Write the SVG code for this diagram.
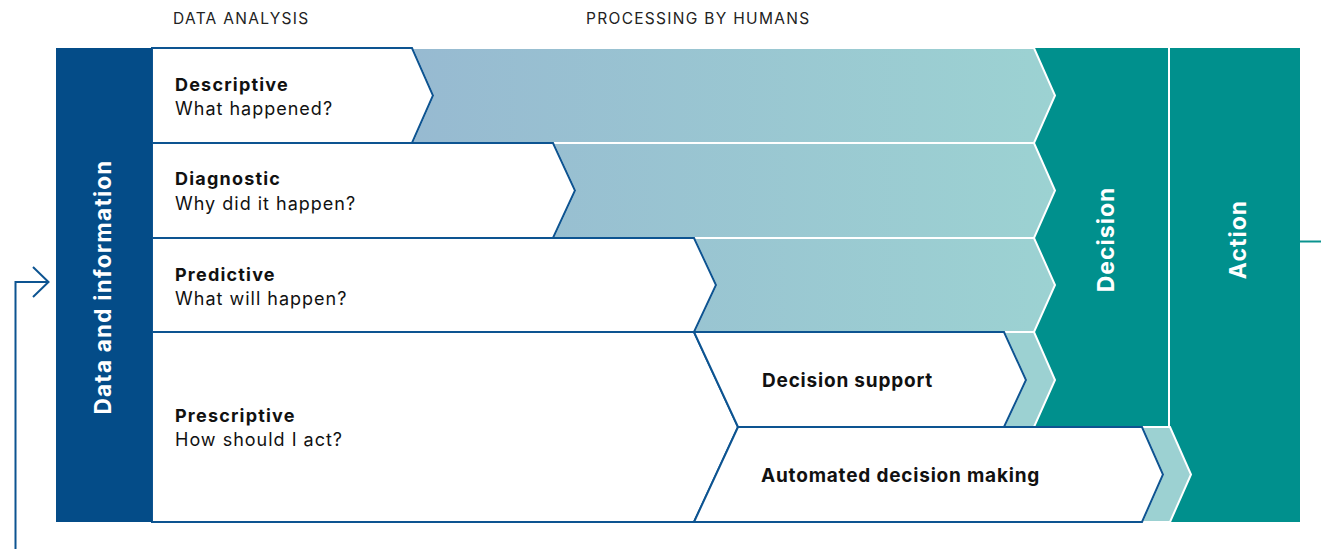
<svg xmlns="http://www.w3.org/2000/svg" width="1321" height="549" viewBox="0 0 1321 549">
<defs>
<linearGradient id="g" gradientUnits="userSpaceOnUse" x1="412" y1="0" x2="1055" y2="0">
<stop offset="0" stop-color="#97bad1"/>
<stop offset="1" stop-color="#9cd2d2"/>
</linearGradient>
<style>
.teal{fill:#00908d}
.band{fill:url(#g);stroke:#fff;stroke-width:2}
.lband{fill:#9cd1d2;stroke:#fff;stroke-width:2}
.box{fill:#fff;stroke:#0d5491;stroke-width:2;stroke-linejoin:miter}
.hdr{font-family:Inter,"Noto Sans",sans-serif;font-size:15.5px;fill:#222;letter-spacing:1.3px}
.t{font-family:Inter,"Noto Sans",sans-serif;font-size:18px;fill:#111;letter-spacing:1px}
.b{font-weight:700;letter-spacing:1.2px}
.c{font-family:Inter,"Noto Sans",sans-serif;font-size:19px;font-weight:700;fill:#111;letter-spacing:0.8px}
.v{font-family:Inter,"Noto Sans",sans-serif;font-weight:700;fill:#fff;text-anchor:middle}
.conn{fill:none;stroke:#0d5491;stroke-width:2}
</style>
</defs>
<rect width="1321" height="549" fill="#fff"/>
<text class="hdr" x="173" y="24">DATA ANALYSIS</text>
<text class="hdr" x="586" y="24">PROCESSING BY HUMANS</text>

<g id="decision">
<rect class="teal" x="1034" y="48" width="134" height="379"/>
<text class="v" font-size="23" letter-spacing="1" transform="translate(1114,239.5) rotate(-90)">Decision</text>
</g>
<g id="action">
<rect class="teal" x="1170" y="48" width="130" height="474"/>
<text class="v" font-size="23" letter-spacing="1" transform="translate(1246,239.5) rotate(-90)">Action</text>
</g>

<g id="bands">
<polygon class="band" points="412,48 1034,48 1055,95.5 1034,143 412,143 433,95.5"/>
<polygon class="band" points="553,143 1034,143 1055,190.5 1034,238 553,238 575,190.5"/>
<polygon class="band" points="694,238 1034,238 1055,285 1034,332 694,332 716,285"/>
<polygon class="lband" points="1004,332 1034,332 1055,380 1034,427 1004,427 1026,380"/>
<polygon class="lband" points="1142,427 1170,427 1191,474.5 1170,522 1142,522 1163,474.5"/>
</g>

<g id="descriptive">
<polygon class="box" points="152,48 412,48 433,95.5 412,143 152,143"/>
<text class="t b" x="175" y="91">Descriptive</text>
<text class="t" x="175" y="115">What happened?</text>
</g>
<g id="diagnostic">
<polygon class="box" points="152,143 553,143 575,190.5 553,238 152,238"/>
<text class="t b" x="175" y="185">Diagnostic</text>
<text class="t" x="175" y="210">Why did it happen?</text>
</g>
<g id="predictive">
<polygon class="box" points="152,238 694,238 716,285 694,332 152,332"/>
<text class="t b" x="175" y="281">Predictive</text>
<text class="t" x="175" y="305">What will happen?</text>
</g>
<g id="prescriptive">
<polygon class="box" points="152,332 694,332 738,427 694,522 152,522"/>
<text class="t b" x="175" y="422">Prescriptive</text>
<text class="t" x="175" y="446">How should I act?</text>
</g>
<g id="decision-support">
<polygon class="box" points="694,332 1004,332 1026,380 1004,427 738,427"/>
<text class="c" x="762" y="387">Decision support</text>
</g>
<g id="automated">
<polygon class="box" points="738,427 1142,427 1163,474.5 1142,522 694,522"/>
<text class="c" x="761" y="482">Automated decision making</text>
</g>

<g id="data">
<rect x="56" y="48" width="96" height="474" fill="#044c88"/>
<text class="v" font-size="22.5" letter-spacing="1.25" transform="translate(111,287) rotate(-90)">Data and information</text>
</g>

<g id="connectors">
<path class="conn" d="M15.5,549 V282 H48"/>
<polyline class="conn" points="33,267 48.5,282 33,297"/>
<path d="M1300,241.5 H1321" fill="none" stroke="#0a938f" stroke-width="2"/>
</g>
</svg>
